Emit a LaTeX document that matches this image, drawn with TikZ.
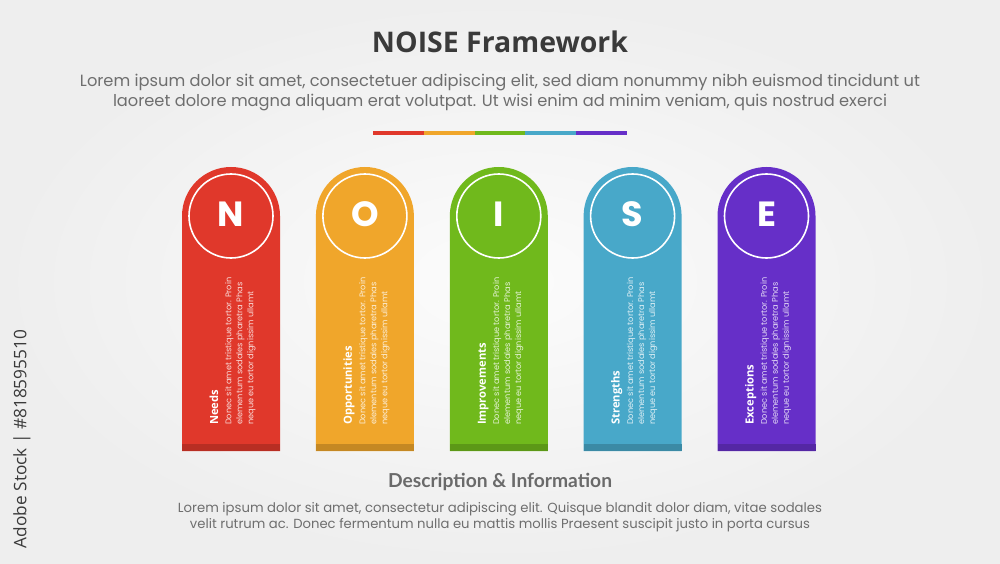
\documentclass[tikz,border=0pt]{standalone}
\usepackage{fontspec}
\setmainfont{Poppins}
\newfontfamily\osans{Open Sans}
\newfontfamily\latof{Lato}
\newfontfamily\popf{Poppins}
\usepackage{graphicx}
\definecolor{cN}{HTML}{E0382B}
\definecolor{cO}{HTML}{F0A62B}
\definecolor{cI}{HTML}{70B91C}
\definecolor{cS}{HTML}{48A8C9}
\definecolor{cE}{HTML}{662FC8}
\definecolor{titlegray}{HTML}{3A3A3A}
\definecolor{subgray}{HTML}{6E6E6E}
\definecolor{descgray}{HTML}{6A6A6A}
\definecolor{bgin}{HTML}{FCFCFC}
\definecolor{bgout}{HTML}{EEEEEE}
\tikzset{
  cardtext/.style={rotate=90, anchor=north west, inner sep=0pt, align=left, font=\popf\fontsize{8.2}{11}\selectfont},
  cardlabel/.style={rotate=90, anchor=base west, inner sep=0pt, text=white, font=\osans\bfseries\fontsize{11.2}{13}\selectfont},
  cardletter/.style={inner sep=0pt, text=white, font=\popf\bfseries\fontsize{35}{40}\selectfont},
  ring/.style={circle, draw=white, line width=1.6pt, minimum size=84pt, inner sep=0pt},
  line/.style={anchor=base, inner sep=0pt}
}
\begin{document}
\begin{tikzpicture}[x=1pt,y=1pt]
\shade[inner color=bgin, outer color=bgout] (0,0) rectangle (1000,563);
\useasboundingbox (0,0) rectangle (1000,563);

% title and subtitle
\node[line, text=titlegray] (title) at (500,510) {\resizebox{256pt}{!}{\osans\bfseries\fontsize{28}{30}\selectfont NOISE Framework}};
\node[line, text=subgray] (sub1) at (500,476) {\resizebox{840pt}{!}{\popf\fontsize{15}{18}\selectfont Lorem ipsum dolor sit amet, consectetuer adipiscing elit, sed diam nonummy nibh euismod tincidunt ut}};
\node[line, text=subgray] (sub2) at (500,456) {\resizebox{774pt}{!}{\popf\fontsize{15}{18}\selectfont laoreet dolore magna aliquam erat volutpat. Ut wisi enim ad minim veniam, quis nostrud exerci}};

% colour bar
\fill[cN] (373,428) rectangle (424,432);
\fill[cO] (424,428) rectangle (475,432);
\fill[cI] (475,428) rectangle (525,432);
\fill[cS] (525,428) rectangle (576,432);
\fill[cE] (576,428) rectangle (627,432);

% cards
\foreach \cx/\L/\lab/\col/\n in {231/N/Needs/cN/n, 364.9/O/Opportunities/cO/o, 498.8/I/Improvements/cI/i, 632.6/S/Strengths/cS/s, 766.5/E/Exceptions/cE/e}{
  \fill[\col] (\cx-49,112) -- (\cx-49,347) arc[start angle=180, end angle=0, radius=49pt] -- (\cx+49,112) -- cycle;
  \fill[\col!82!black] (\cx-49,112) rectangle (\cx+49,119);
  \node[ring] (ring-\n) at (\cx,347) {};
  \node[cardletter] (letter-\n) at (\cx,348.5) {\L};
  \node[cardlabel] (label-\n) at (\cx-13,138) {\lab};
  \node[cardtext, text=white!82!\col] (text-\n) at (\cx-6,138) {Donec sit amet tristique tortor. Proin\\elementum sodales pharetra Phas\\neque eu tortor dignissim ullamt};
}

% description
\node[line, text=descgray] (desc) at (500,76) {\resizebox{224pt}{!}{\latof\bfseries\fontsize{17}{20}\selectfont Description \& Information}};
\node[line, text=subgray] (d1) at (500,51) {\resizebox{644pt}{!}{\popf\fontsize{12.5}{15}\selectfont Lorem ipsum dolor sit amet, consectetur adipiscing elit. Quisque blandit dolor diam, vitae sodales}};
\node[line, text=subgray] (d2) at (500,35) {\resizebox{620pt}{!}{\popf\fontsize{12.5}{15}\selectfont velit rutrum ac. Donec fermentum nulla eu mattis mollis Praesent suscipit justo in porta cursus}};

% side credit
\node[rotate=90, inner sep=0pt, text=titlegray] (credit) at (22,124) {\resizebox{218pt}{!}{\osans\fontsize{16}{18}\selectfont Adobe Stock | \#818595510}};
\end{tikzpicture}
\end{document}
